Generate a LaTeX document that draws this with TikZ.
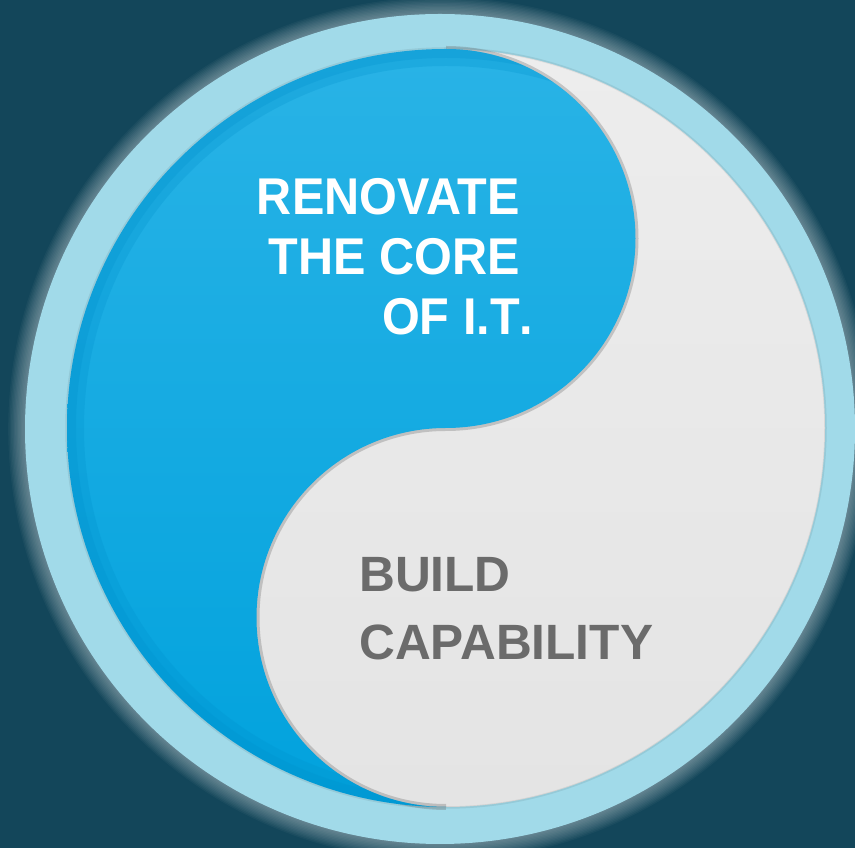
\documentclass[tikz,border=0pt]{standalone}
\usepackage{fontspec}
\setmainfont{Liberation Sans}
\newfontfamily\renfont[FakeStretch=0.94]{Liberation Sans}
\definecolor{bgc}{HTML}{13465A}
\definecolor{ringc}{HTML}{A1DAE9}
\definecolor{blueT}{HTML}{29B3E6}
\definecolor{blueB}{HTML}{01A2DD}
\definecolor{rimc}{HTML}{0090CC}
\definecolor{greyT}{HTML}{EDEDED}
\definecolor{greyB}{HTML}{E4E4E4}
\definecolor{txtgrey}{HTML}{6B6B6B}
\tikzset{
  rentext/.style={font=\renfont\bfseries\fontsize{51.7}{60}\selectfont, text=white, inner sep=0pt, align=right},
  buildtext/.style={font=\bfseries\fontsize{49.6}{68}\selectfont, text=txtgrey, inner sep=0pt, align=left}
}
\begin{document}
\begin{tikzpicture}[x=1pt,y=1pt]
\useasboundingbox (0,0) rectangle (855,848);
\fill[bgc] (0,0) rectangle (855,848);
% glow
\foreach \i in {1,...,12}{
  \fill[white, opacity=0.035] (440,419) circle ({415+1.4*\i});
}
% ring
\fill[ringc] (440,419) circle (415);
\coordinate (O) at (446,420);
% grey disc
\shade[top color=greyT, bottom color=greyB] (O) circle (379);
\draw[black, opacity=0.07, line width=2.5] (O) circle (379.5);
% S-curve shadow
\draw[black!60, opacity=0.3, line width=6] (446,41) arc[start angle=270,end angle=90,radius=189.5]
   arc[start angle=-90,end angle=90,radius=189.5];
% blue half
\shade[top color=blueT, bottom color=blueB] (446,799) arc[start angle=90,end angle=270,radius=379]
   arc[start angle=270,end angle=90,radius=189.5]
   arc[start angle=-90,end angle=90,radius=189.5] -- cycle;
\begin{scope}
\clip (446,799) arc[start angle=90,end angle=270,radius=379]
   arc[start angle=270,end angle=90,radius=189.5]
   arc[start angle=-90,end angle=90,radius=189.5] -- cycle;
\draw[rimc, line width=34, opacity=0.25] (O) circle (379);
\draw[rimc, line width=18, opacity=0.25] (O) circle (379);
\end{scope}
% texts
\node[rentext, anchor=north east] (ren) at (520,670) {RENOVATE\\THE CORE\\OF I.T\rlap{.}};
\node[buildtext, anchor=north west] (build) at (359,291) {BUILD\\CAPABILITY};
\end{tikzpicture}
\end{document}
